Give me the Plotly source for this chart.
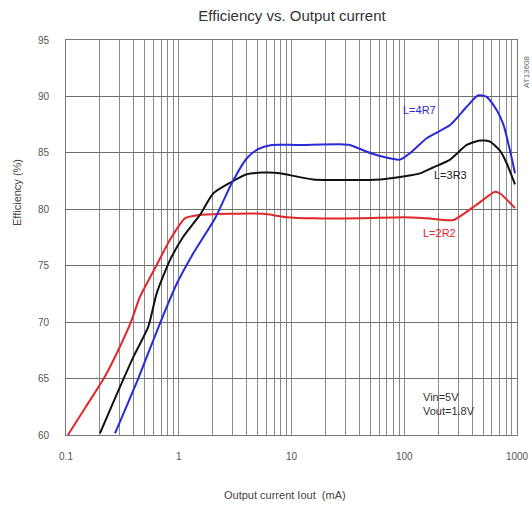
import plotly.graph_objects as go

# Data
x_2r2 = [0.104, 0.15, 0.222, 0.3, 0.383, 0.453, 0.637, 0.836, 1.135, 1.54, 2.85, 5.6, 9.06, 15.6, 40, 100, 160, 272, 437, 638, 708, 960]
y_2r2 = [60.0, 62.5, 65.2, 67.8, 70.2, 72.25, 75.06, 77.3, 79.2, 79.5, 79.6, 79.6, 79.3, 79.2, 79.2, 79.3, 79.2, 79.05, 80.4, 81.55, 81.4, 80.1]

x_3r3 = [0.2, 0.272, 0.395, 0.537, 0.637, 0.836, 1.096, 1.54, 2.02, 2.85, 4.0, 5.6, 7.9, 11.1, 15.6, 33, 61, 98, 140, 180, 255, 358, 470, 576, 706, 809, 960]
y_3r3 = [60.15, 63.25, 66.9, 69.6, 72.55, 75.5, 77.56, 79.5, 81.4, 82.35, 83.1, 83.25, 83.2, 82.9, 82.65, 82.6, 82.65, 82.9, 83.2, 83.7, 84.4, 85.7, 86.1, 86.0, 85.2, 84.1, 82.2]

x_4r7 = [0.272, 0.437, 0.682, 0.96, 1.346, 2.1, 2.95, 4.0, 5.0, 6.67, 11.1, 26.9, 33, 46.5, 65.2, 91.6, 112, 158, 255, 358, 454, 538, 660, 758, 867, 960]
y_4r7 = [60.15, 65.0, 69.9, 73.4, 76.1, 79.2, 82.3, 84.5, 85.3, 85.7, 85.7, 85.77, 85.7, 85.1, 84.65, 84.4, 84.95, 86.3, 87.46, 89.08, 90.1, 89.96, 88.8, 87.5, 85.2, 83.2]

x_ticks = [0.1, 1, 10, 100, 1000]
x_tick_text = ["0.1", "1", "10", "100", "1000"]
y_ticks = [60, 65, 70, 75, 80, 85, 90, 95]

series = [
    ("L=2R2", x_2r2, y_2r2, "#e3262b"),
    ("L=3R3", x_3r3, y_3r3, "#111111"),
    ("L=4R7", x_4r7, y_4r7, "#2a2ad8"),
]

# grid positions on the log axis: every 1..9 multiple in each decade
grid_vals = []
grid_text = []
for d in x_ticks[:-1]:
    for m in range(1, 10):
        v = round(d * m, 6)
        grid_vals.append(v)
        grid_text.append(x_tick_text[x_ticks.index(d)] if m == 1 else "")
grid_vals.append(x_ticks[-1])
grid_text.append(x_tick_text[-1])

fig = go.Figure()
for name, xs, ys, col in series:
    fig.add_trace(go.Scatter(x=xs, y=ys, mode="lines", name=name,
                             line=dict(color=col, width=2, shape="spline", smoothing=0.6),
                             showlegend=False))

font_family = "Liberation Sans, Arial, sans-serif"

W, H = 532, 505
fig.update_layout(
    width=W, height=H,
    margin=dict(l=66, r=W - 66 - 451, t=40, b=H - 40 - 395),
    paper_bgcolor="white", plot_bgcolor="white",
    font=dict(family=font_family, color="#444", size=11),
    title=dict(text="Efficiency vs. Output current", x=292 / W, xanchor="center",
               y=1 - 16 / H, yanchor="middle", font=dict(size=15, color="#333")),
)

fig.update_xaxes(type="log", range=[-1, 3], tickvals=grid_vals, ticktext=grid_text,
                 showgrid=True, gridcolor="#8a8a8a", gridwidth=1,
                 showline=True, linecolor="#777", linewidth=1, mirror=True,
                 ticks="", ticklabelstandoff=12, zeroline=False, ticklabeloverflow="allow",
                 automargin=False, tickfont=dict(size=10, color="#555"))
fig.update_yaxes(range=[60, 95], tickvals=y_ticks,
                 showgrid=True, gridcolor="#6f6f6f", gridwidth=1,
                 showline=True, linecolor="#777", linewidth=1, mirror=True,
                 ticks="", ticklabelstandoff=14, zeroline=False,
                 automargin=False, tickfont=dict(size=10, color="#555"))

pw, ph = 451, 395
def px(xp):
    return (xp - 66) / pw
def py(yp):
    return (435 - yp) / ph

annos = [
    dict(text="Efficiency (%)", x=px(17), y=py(193), textangle=-90, font=dict(size=11, color="#444")),
    dict(text="Output current Iout  (mA)", x=px(285), y=py(495), font=dict(size=11, color="#444")),
    dict(text="L=4R7", x=px(419), y=py(110), font=dict(size=11, color="#2a2ad8")),
    dict(text="L=3R3", x=px(450), y=py(175), font=dict(size=11, color="#222")),
    dict(text="L=2R2", x=px(439), y=py(233), font=dict(size=11, color="#e3262b")),
    dict(text="AT13608", x=px(526), y=py(72), textangle=-90, font=dict(size=8, color="#666")),
]
for a in annos:
    fig.add_annotation(xref="paper", yref="paper", showarrow=False,
                       xanchor="center", yanchor="middle", **a)
fig.add_annotation(xref="paper", yref="paper", showarrow=False, xanchor="left", yanchor="middle",
                   align="left", x=px(421), y=py(403.5), text="Vin=5V<br>Vout=1.8V",
                   font=dict(size=11, color="#333"))

fig.write_html("out.html", config={"responsive": False, "displayModeBar": False},
               post_script="document.body.style.margin='0';")
